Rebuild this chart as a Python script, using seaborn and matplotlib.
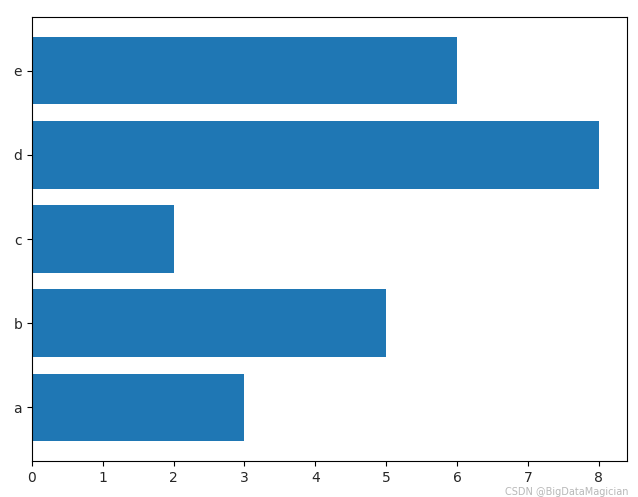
import pandas as pd
import matplotlib
matplotlib.use('Agg')
import matplotlib.pyplot as plt
import seaborn as sns

categories = ['a', 'b', 'c', 'd', 'e']
values = [3, 5, 2, 8, 6]

df = pd.DataFrame({'cat': categories, 'val': values})

fig = plt.figure(figsize=(6.38, 4.97), dpi=100)
ax = fig.add_axes([0.050, 0.0724, 0.933, 0.8934])

sns.barplot(data=df, x='val', y='cat', order=categories[::-1], orient='h',
            color='#1f77b4', saturation=1, width=0.8, ax=ax)

ax.set_xlim(0, 8.4)
ax.set_ylim(4.64, -0.64)
ax.set_xlabel('')
ax.set_ylabel('')
ax.tick_params(labelsize=10, labelcolor='#262626')

# watermark, kept just under the tick labels
fig.text(0.985, 0.0, 'CSDN @BigDataMagician', ha='right', va='bottom',
         fontsize=7, color='#b8b8b8')

fig.savefig('out.png', dpi=100)
